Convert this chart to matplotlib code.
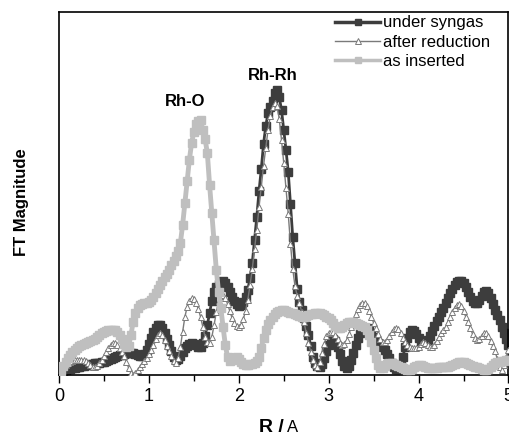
import numpy as np
import matplotlib
matplotlib.use("Agg")
import matplotlib.pyplot as plt

plt.rcParams["font.family"] = ["Liberation Sans", "DejaVu Sans"]

# FT R-grid (Angstrom), 0.025 steps
r = np.linspace(0.0, 5.0, 201)

# FT magnitudes (arbitrary units)
under_syngas = [
    0, 1, 3, 5, 6, 6, 7, 7, 8, 8,
    9, 9, 10, 10, 11, 11, 12, 12, 12, 13,
    13, 14, 15, 16, 17, 18, 19, 20, 20, 21,
    22, 22, 22, 22, 21, 20, 19, 19, 21, 25,
    31, 37, 43, 47, 50, 50, 47, 42, 36, 30,
    24, 18, 15, 16, 19, 23, 27, 29, 31, 32,
    31, 30, 28, 28, 32, 39, 50, 62, 74, 83,
    88, 91, 93, 94, 92, 88, 83, 78, 74, 71,
    69, 70, 73, 78, 85, 97, 112, 135, 158, 184,
    206, 231, 249, 262, 268, 274, 282, 285, 278, 265,
    245, 225, 203, 171, 138, 112, 86, 73, 65, 57,
    49, 40, 29, 18, 12, 9, 8, 11, 17, 24,
    30, 34, 36, 34, 28, 21, 14, 9, 7, 9,
    15, 22, 30, 37, 42, 45, 47, 47, 45, 42,
    38, 35, 32, 30, 28, 25, 21, 17, 12, 8,
    6, 6, 10, 18, 28, 37, 43, 45, 44, 41,
    37, 34, 33, 33, 35, 39, 44, 49, 54, 58,
    63, 67, 72, 77, 82, 86, 90, 93, 94, 94,
    92, 88, 83, 78, 74, 72, 72, 75, 79, 83,
    84, 82, 77, 71, 65, 60, 55, 48, 42, 36,
    30,
]

after_reduction = [
    0, 4, 8, 10, 12, 13, 14, 15, 15, 15,
    15, 15, 14, 12, 10, 8, 8, 9, 12, 15,
    19, 23, 27, 30, 32, 32, 30, 27, 23, 19,
    13, 7, 2, 0, 2, 5, 8, 11, 14, 17,
    21, 25, 30, 36, 40, 42, 40, 35, 29, 24,
    19, 14, 12, 17, 28, 43, 58, 68, 74, 77,
    76, 72, 66, 58, 48, 38, 33, 32, 38, 50,
    63, 74, 79, 80, 77, 71, 64, 57, 52, 49,
    48, 50, 56, 64, 75, 90, 106, 126, 145, 168,
    188, 209, 227, 245, 259, 268, 272, 269, 256, 235,
    212, 187, 161, 131, 106, 89, 79, 72, 63, 53,
    42, 32, 23, 15, 10, 8, 13, 22, 31, 39,
    42, 43, 43, 40, 36, 32, 30, 31, 35, 41,
    48, 54, 61, 66, 70, 72, 72, 69, 64, 58,
    52, 47, 41, 36, 33, 33, 35, 39, 43, 46,
    47, 46, 42, 37, 33, 30, 28, 27, 27, 27,
    28, 31, 33, 32, 30, 28, 28, 30, 34, 38,
    42, 45, 48, 53, 58, 63, 67, 70, 71, 69,
    64, 58, 53, 47, 41, 37, 35, 36, 39, 42,
    42, 39, 34, 29, 24, 16, 8, 5, 10, 18,
    25,
]

as_inserted = [
    0, 4, 9, 13, 17, 20, 23, 25, 27, 29,
    30, 31, 32, 33, 34, 35, 36, 38, 40, 42,
    43, 44, 45, 45, 45, 45, 43, 40, 36, 31,
    28, 29, 40, 53, 62, 67, 70, 71, 72, 72,
    73, 75, 78, 82, 86, 90, 94, 98, 101, 105,
    110, 114, 119, 124, 132, 150, 172, 194, 215, 232,
    243, 251, 254, 255, 245, 236, 222, 190, 162, 135,
    105, 83, 67, 48, 30, 18, 14, 15, 17, 18,
    16, 13, 11, 10, 10, 11, 11, 12, 14, 18,
    27, 37, 45, 51, 55, 58, 61, 63, 64, 65,
    65, 64, 63, 62, 62, 61, 60, 59, 58, 58,
    59, 60, 61, 61, 62, 62, 62, 61, 60, 58,
    57, 55, 52, 49, 47, 47, 48, 50, 52, 53,
    53, 53, 52, 51, 50, 49, 48, 45, 40, 33,
    25, 17, 10, 7, 7, 9, 11, 12, 12, 11,
    10, 9, 8, 7, 6, 5, 5, 6, 8, 9,
    10, 10, 9, 8, 7, 7, 7, 7, 7, 8,
    8, 8, 8, 8, 9, 10, 11, 12, 13, 13,
    13, 12, 11, 10, 9, 8, 8, 7, 6, 5,
    5, 6, 8, 10, 12, 13, 13, 14, 14, 15,
    15,
]

series_labels = ["under syngas", "after reduction", "as inserted"]
x_ticks = [0, 1, 2, 3, 4, 5]

fig = plt.figure(figsize=(5.10, 4.36), dpi=100)
ax = fig.add_axes([59 / 510, 61 / 436, 449.5 / 510, 363 / 436])

ax.plot(r, under_syngas, color="#3d3d3d", lw=2.0, marker="s", ms=6,
        mec="#3d3d3d", mfc="#3d3d3d", label=series_labels[0], zorder=2)
ax.plot(r, after_reduction, color="#7a7a7a", lw=1.0, marker="^", ms=5,
        mec="#7a7a7a", mfc="white", mew=0.7, label=series_labels[1], zorder=3)
ax.plot(r, as_inserted, color="#bfbfbf", lw=3.5, marker="s", ms=6,
        mec="#bfbfbf", mfc="#bfbfbf", label=series_labels[2], zorder=4)

ax.set_xlim(0, 5)
ax.set_ylim(0, 363)
ax.set_xticks(x_ticks)
ax.set_xticks([0.5, 1.5, 2.5, 3.5, 4.5], minor=True)
ax.set_yticks([])
ax.tick_params(axis="x", which="major", direction="out", length=6, width=1,
               labelsize=13, pad=3)
ax.tick_params(axis="x", which="minor", direction="out", length=4, width=1)
for sp in ax.spines.values():
    sp.set_linewidth(1.2)

ax.text(1.4, 273, "Rh-O", fontsize=12, fontweight="bold", ha="center", va="center")
ax.text(2.38, 300, "Rh-Rh", fontsize=12, fontweight="bold", ha="center", va="center")

leg = ax.legend(loc="upper right", bbox_to_anchor=(0.962, 0.995), frameon=False,
                fontsize=12, numpoints=1, handlelength=2.7, handletextpad=0.15,
                labelspacing=0.26, borderaxespad=0, borderpad=0.1)
for h, lw in zip(leg.get_lines(), [2.5, 1.0, 2.5]):
    h.set_markersize(4.5)
    h.set_linewidth(lw)

fig.text(21.5 / 510, 1 - 202 / 436, "FT Magnitude", rotation=90, fontsize=12,
         fontweight="bold", ha="center", va="center")
fig.text(284 / 510, 4 / 436, "R /", fontsize=14, fontweight="bold",
         ha="right", va="baseline")
fig.text(287 / 510, 4 / 436, "A", fontsize=12, ha="left", va="baseline")

fig.savefig("out.png", dpi=100)
